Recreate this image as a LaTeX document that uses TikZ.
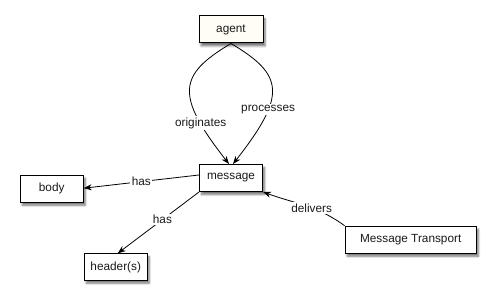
\documentclass[tikz,border=0pt]{standalone}
\usepackage{fontspec}
\setmainfont{Liberation Sans}
\usetikzlibrary{arrows.meta,shadows.blur}
\definecolor{cream}{HTML}{FFFDF5}
\definecolor{txt}{HTML}{1A1A1A}
\begin{document}
\begin{tikzpicture}[x=1pt,y=-1pt,
  box/.style={draw=black,line width=1pt,fill=white,minimum width=63pt,minimum height=27pt,
    inner sep=0pt,font=\fontsize{11.8}{14}\selectfont,text=txt,
    blur shadow={shadow xshift=2pt,shadow yshift=-3pt,shadow blur steps=6,shadow opacity=55}},
  arr/.style={line width=0.8pt,-{Stealth[length=8pt,width=6pt]}},
  lbl/.style={fill=white,inner sep=1.5pt,font=\fontsize{11.8}{14}\selectfont,text=txt}]
\useasboundingbox (0,0) rectangle (498,304);
\node[box,fill=cream,minimum width=64pt] (agent) at (231,29.5) {agent};
\node[box] (msg) at (231,178) {message};
\node[box] (body) at (51.7,188.7) {body};
\node[box,minimum height=26.3pt] (hdr) at (115.7,267) {header(s)};
\node[box,inner xsep=15pt] (mt) at (410.7,239.7) {Message Transport};
\coordinate (l) at ([xshift=-2pt]msg.north);
\coordinate (r) at ([xshift=2pt]msg.north);
\draw[arr] (agent.south) .. controls (178,75) and (175,95) .. node[lbl,pos=0.77] {originates} (l);
\draw[arr] (agent.south) .. controls (284,75) and (287,95) .. node[lbl,pos=0.67] {processes} (r);
\draw[arr] ([yshift=3pt]msg.west) -- node[lbl] {has} ([yshift=0.5pt]body.east);
\draw[arr] (msg.south west) -- node[lbl,pos=0.45] {has} ([xshift=2pt]hdr.north);
\draw[arr] (mt.north west) to[out=144,in=-20] node[lbl,pos=0.42] {delivers} (msg.south east);
\end{tikzpicture}
\end{document}
